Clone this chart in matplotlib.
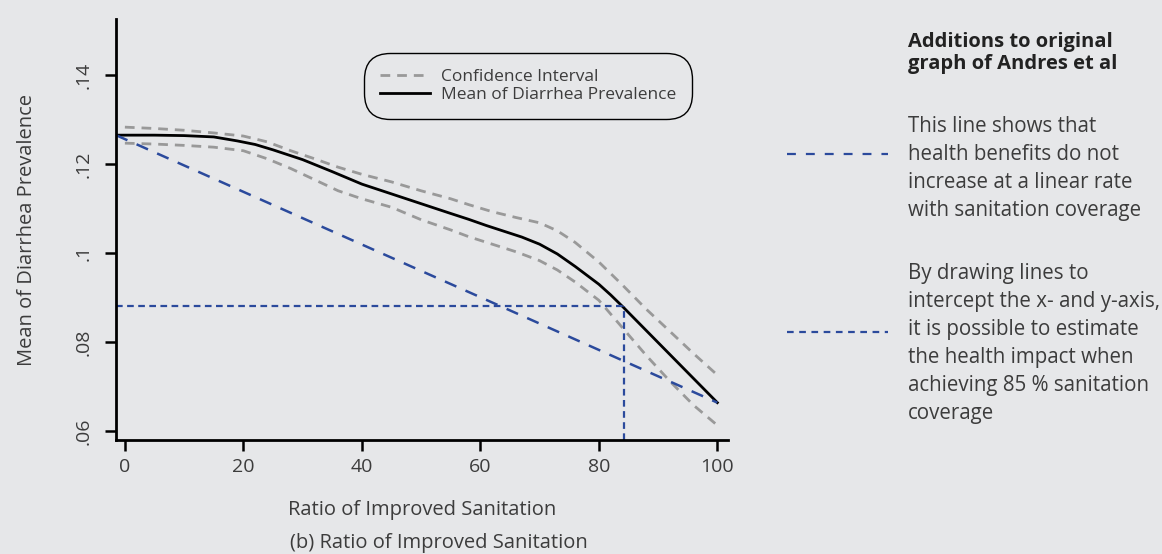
import numpy as np
import matplotlib
matplotlib.use('Agg')
from matplotlib import pyplot as plt

# values
sanitation = [0, 5, 10, 15, 20, 24, 28, 32, 36, 40, 45, 50, 55, 58, 62, 66,
              70, 73, 76, 80, 84, 88, 92, 96, 100]
ci_upper = [0.1283, 0.1280, 0.1276, 0.1270, 0.1263, 0.1250, 0.1230, 0.1212,
            0.1193, 0.1177, 0.1160, 0.1140, 0.1122, 0.1109, 0.1093, 0.1080,
            0.1068, 0.1050, 0.1024, 0.0980, 0.0928, 0.0874, 0.0824, 0.0774,
            0.0726]
ci_lower = [0.1247, 0.1245, 0.1242, 0.1238, 0.1230, 0.1212, 0.1190, 0.1165,
            0.1140, 0.1122, 0.1103, 0.1075, 0.1052, 0.1037, 0.1020, 0.1003,
            0.0983, 0.0962, 0.0935, 0.0894, 0.0832, 0.0770, 0.0712, 0.0658,
            0.0613]

mean_x = [-1.5, 0, 5, 10, 15, 19, 22, 25, 30, 35, 40, 45, 50, 55, 58, 61,
          64, 67, 70, 73, 76, 78, 80, 82, 84, 88, 92, 96, 100]
mean_y = [0.1265, 0.1265, 0.1265, 0.1264, 0.1261, 0.1252, 0.1244, 0.1232,
          0.1210, 0.1183, 0.1155, 0.1133, 0.1111, 0.1089, 0.1076, 0.1062,
          0.1049, 0.1036, 0.1020, 0.0998, 0.0970, 0.0950, 0.0930, 0.0906,
          0.0880, 0.0826, 0.0772, 0.0718, 0.0664]

linear_x = [-1.5, 100]
linear_y = [0.1265, 0.0664]
target_x = 84.3
target_y = 0.0880

xticks = [0, 20, 40, 60, 80, 100]
yticks = [0.06, 0.08, 0.10, 0.12, 0.14]
ytick_labels = ['.06', '.08', '.1', '.12', '.14']

note_title = ['Additions to original', 'graph of Andres et al']
note_one = ['This line shows that', 'health benefits do not',
            'increase at a linear rate', 'with sanitation coverage']
note_two = ['By drawing lines to', 'intercept the x- and y-axis,',
            'it is possible to estimate', 'the health impact when',
            'achieving 85 % sanitation', 'coverage']

bg = '#e6e7e9'
blue = '#2b4a9c'
grey = '#999999'
txt = '#3c3c3c'

plt.rcParams['font.family'] = ['Open Sans', 'DejaVu Sans']

fig = plt.figure(figsize=(11.62, 5.54), dpi=100, facecolor=bg)
ax = fig.add_axes([116/1162, 1-440/554, (728-116)/1162, (440-19)/554])
ax.set_facecolor(bg)

ax.plot(sanitation, ci_upper, color=grey, lw=2, dashes=(3.5, 2.5))
l_ci, = ax.plot(sanitation, ci_lower, color=grey, lw=2, dashes=(3.5, 2.5),
                label='Confidence Interval')
l_mean, = ax.plot(mean_x, mean_y, color='black', lw=2,
                  label='Mean of Diarrhea Prevalence')
ax.plot(linear_x, linear_y, color=blue, lw=1.8, dashes=(5, 4))
ax.plot([-1.5, target_x], [target_y, target_y], color=blue, lw=1.6,
        dashes=(3, 2))
ax.plot([target_x, target_x], [0.058, target_y], color=blue, lw=1.6,
        dashes=(3, 2))

ax.set_xlim(-1.5, 101.8)
ax.set_ylim(0.058, 0.1526)
for s in ['top', 'right']:
    ax.spines[s].set_visible(False)
for s in ['left', 'bottom']:
    ax.spines[s].set_linewidth(2)
ax.set_xticks(xticks)
ax.set_xticklabels([str(t) for t in xticks])
ax.set_yticks(yticks)
ax.set_yticklabels(ytick_labels, rotation=90, va='center')
ax.tick_params(length=8, width=1.8, labelsize=14, labelcolor=txt)
ax.tick_params(axis='x', pad=5)
ax.tick_params(axis='y', pad=9)

ax.set_xlabel('Ratio of Improved Sanitation', fontsize=14.5, color=txt,
              labelpad=17)
ax.set_ylabel('Mean of Diarrhea Prevalence', fontsize=14.5, color=txt,
              labelpad=27)

leg = ax.legend(handles=[l_ci, l_mean], loc='center',
                bbox_to_anchor=(528/1162, 1-86/554),
                bbox_transform=fig.transFigure, fontsize=12.5,
                handlelength=2.9, handletextpad=0.6, labelspacing=0.15,
                borderpad=0.6, fancybox=True, framealpha=1,
                facecolor=bg, edgecolor='black')
leg.get_frame().set_linewidth(1.0)
leg.get_frame().set_boxstyle('round,pad=0.3,rounding_size=1.5')
for t in leg.get_texts():
    t.set_color(txt)

fig.text(439/1162, 1-543/554, '(b) Ratio of Improved Sanitation',
         fontsize=14.5, color=txt, ha='center', va='center')

# notes on the right, one text per line
tx = 908/1162
for i, line in enumerate(note_title):
    fig.text(tx, 1-(42+22*i)/554, line, fontsize=14.5, fontweight='bold',
             color='#222222', va='center')
for i, line in enumerate(note_one):
    fig.text(tx, 1-(127+27.8*i)/554, line, fontsize=14.8, color=txt,
             va='center')
for i, line in enumerate(note_two):
    fig.text(tx, 1-(273+28*i)/554, line, fontsize=14.8, color=txt,
             va='center')

fig.add_artist(plt.Line2D([787/1162, 888/1162], [1-154/554, 1-154/554],
                          color=blue, lw=1.6, dashes=(4, 4.5)))
fig.add_artist(plt.Line2D([787/1162, 888/1162], [1-332/554, 1-332/554],
                          color=blue, lw=1.6, dashes=(3, 2.5)))

fig.savefig('out.png', dpi=100, facecolor=bg)
